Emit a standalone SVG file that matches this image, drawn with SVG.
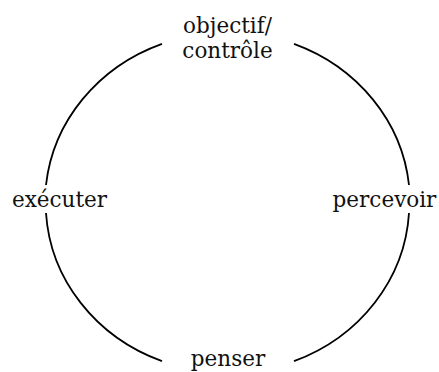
<svg xmlns="http://www.w3.org/2000/svg" width="439" height="372" viewBox="0 0 439 372">
<style>
.arc{fill:none;stroke:#000;stroke-width:1.8}
.lbl{font-family:"DejaVu Serif","Liberation Serif",serif;font-size:21.5px;fill:#111;text-anchor:middle}
</style>
<rect width="439" height="372" fill="#fff"/>
<g id="connectors">
<path class="arc" d="M162,43.8 A182.5,170 0 0 0 46,185"/>
<path class="arc" d="M46,213 A182.5,170 0 0 0 162,361.2"/>
<path class="arc" d="M294,361.2 A182.5,170 0 0 0 409,213"/>
<path class="arc" d="M409,185 A182.5,170 0 0 0 294,43.8"/>
</g>
<g id="objectif">
<text class="lbl" x="227.5" y="33">objectif/</text>
<text class="lbl" x="227.5" y="58">contrôle</text>
</g>
<g id="percevoir"><text class="lbl" x="384.5" y="207">percevoir</text></g>
<g id="penser"><text class="lbl" x="228" y="366">penser</text></g>
<g id="executer"><text class="lbl" x="59.5" y="207">exécuter</text></g>
</svg>
